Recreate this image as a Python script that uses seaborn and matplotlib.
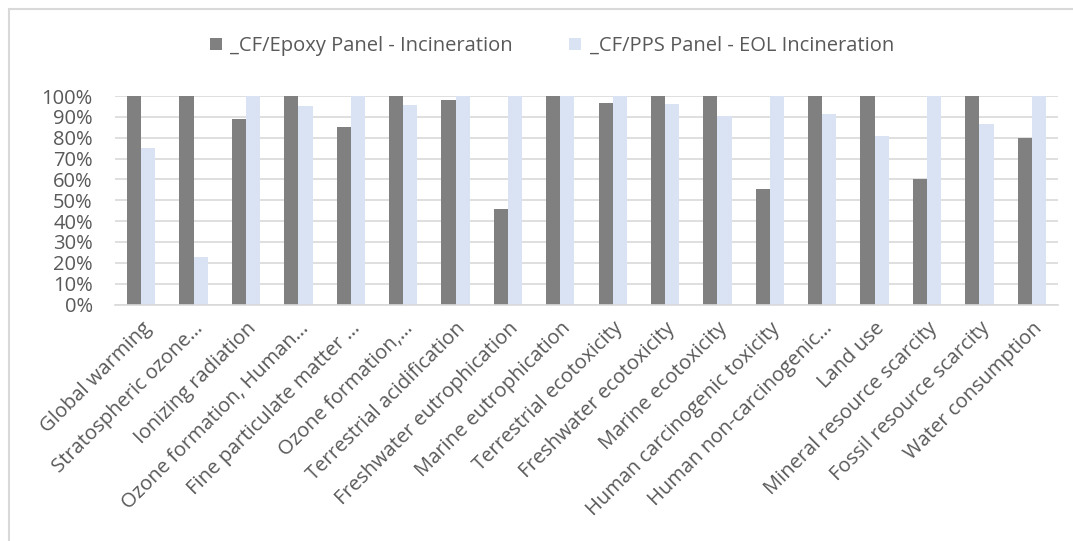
import matplotlib
matplotlib.use("Agg")
import matplotlib.pyplot as plt
import matplotlib.patches as mpatches
from matplotlib.ticker import PercentFormatter
import seaborn as sns
import pandas as pd

categories = [
    "Global warming",
    "Stratospheric ozone…",
    "Ionizing radiation",
    "Ozone formation, Human…",
    "Fine particulate matter …",
    "Ozone formation,…",
    "Terrestrial acidification",
    "Freshwater eutrophication",
    "Marine eutrophication",
    "Terrestrial ecotoxicity",
    "Freshwater ecotoxicity",
    "Marine ecotoxicity",
    "Human carcinogenic toxicity",
    "Human non-carcinogenic…",
    "Land use",
    "Mineral resource scarcity",
    "Fossil resource scarcity",
    "Water consumption",
]

series_names = ["_CF/Epoxy Panel - Incineration", "_CF/PPS Panel - EOL Incineration"]

epoxy_incineration = [100, 100, 88.8, 100, 85.0, 100, 98.2, 45.6, 100,
                      96.6, 100, 100, 55.4, 100, 100, 60.2, 100, 80.0]
pps_eol_incineration = [75.0, 22.6, 100, 95.2, 100, 95.5, 100, 100, 100,
                        100, 96.2, 90.2, 100, 91.4, 81.0, 100, 86.4, 100]

y_ticks = [0, 10, 20, 30, 40, 50, 60, 70, 80, 90, 100]

df = pd.DataFrame({
    "category": categories * 2,
    "series": [series_names[0]] * len(categories) + [series_names[1]] * len(categories),
    "value": epoxy_incineration + pps_eol_incineration,
})

sns.set_theme(style="white")
plt.rcParams["font.family"] = ["Open Sans", "DejaVu Sans"]

text_color = "#595959"
grid_color = "#d9d9d9"
colors = {series_names[0]: "#808080", series_names[1]: "#dae3f3"}

W, H = 1073, 541
fig = plt.figure(figsize=(W / 100, H / 100), dpi=100)
ax = fig.add_axes([115 / W, 1 - 304.5 / H, (1058 - 115) / W, (304.5 - 96) / H])

sns.barplot(data=df, x="category", y="value", hue="series", palette=colors,
            order=categories, hue_order=series_names, width=0.54, gap=0,
            saturation=1, linewidth=0, legend=False, ax=ax)

ax.set_ylim(0, 100)
ax.set_xlim(-0.5, len(categories) - 0.5)
ax.set_yticks(y_ticks)
ax.yaxis.set_major_formatter(PercentFormatter(decimals=0))
ax.grid(axis="y", color=grid_color, linewidth=1.2)
ax.set_axisbelow(True)
for side in ["top", "right", "left"]:
    ax.spines[side].set_visible(False)
ax.spines["bottom"].set_color(grid_color)
ax.spines["bottom"].set_linewidth(1.2)
ax.set_xlabel("")
ax.set_ylabel("")
ax.tick_params(axis="both", length=0, colors=text_color)
ax.tick_params(axis="y", pad=16, labelsize=14.5)
ax.tick_params(axis="x", pad=10, labelsize=14.5)
plt.setp(ax.get_xticklabels(), rotation=45, ha="right", rotation_mode="anchor")

handles = [mpatches.Patch(facecolor=colors[s], edgecolor="none", label=s) for s in series_names]
fig.legend(handles=handles, loc="center", bbox_to_anchor=(552 / W, 1 - 46 / H),
           ncol=2, frameon=False, fontsize=14.5, labelcolor=text_color,
           handlelength=0.6, handleheight=0.6, handletextpad=0.4, columnspacing=2.8)

# chart-area border
border = mpatches.Rectangle((9 / W, -0.05), 1.1, 1.05 - 9 / H, transform=fig.transFigure,
                            fill=False, edgecolor=grid_color, linewidth=1.5)
fig.patches.append(border)

fig.savefig("out.png", dpi=100, facecolor="white")
